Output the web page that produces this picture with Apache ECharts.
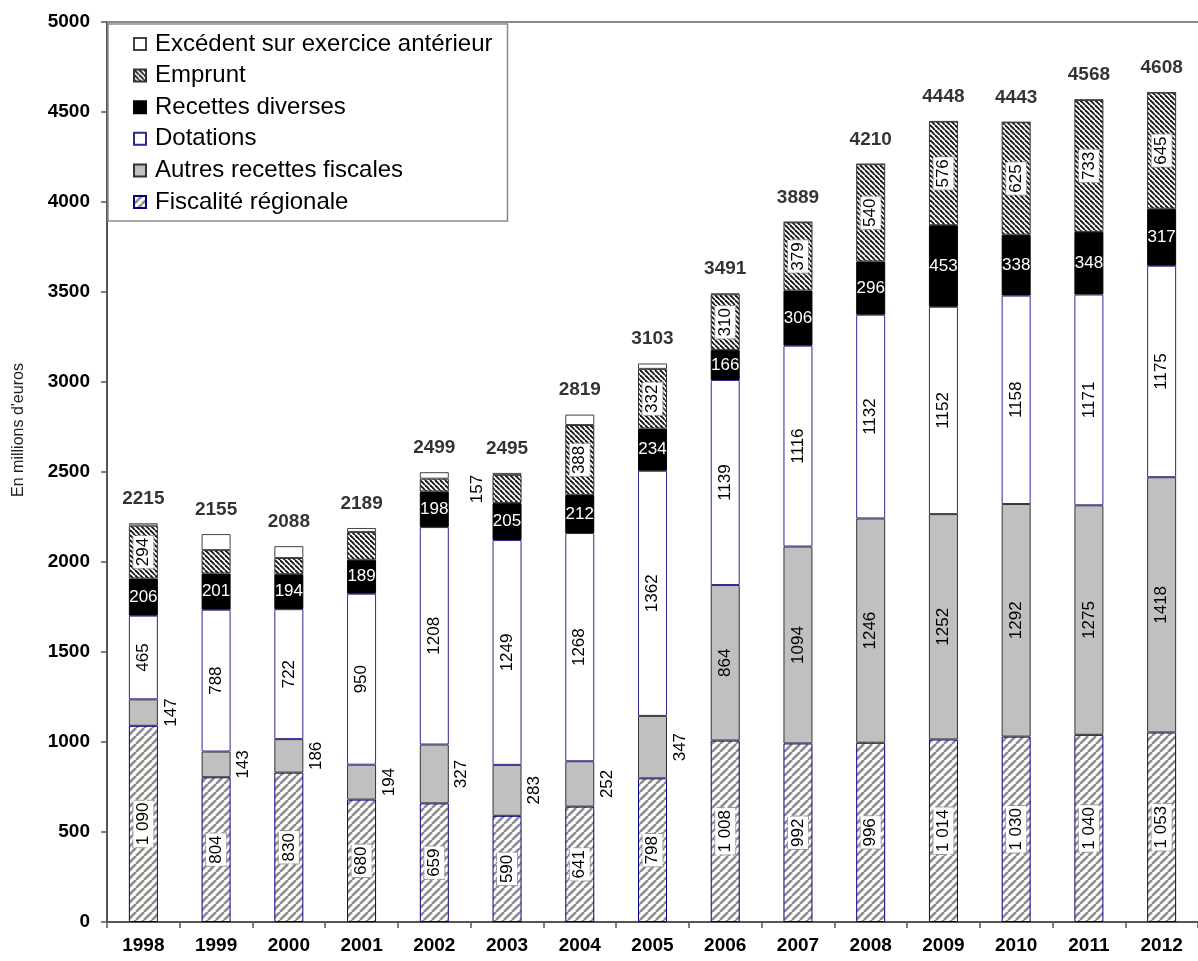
<!DOCTYPE html>
<html>
<head>
<meta charset="utf-8">
<script src="https://cdn.jsdelivr.net/npm/echarts@6/dist/echarts.min.js"></script>
<style>
html,body{margin:0;padding:0;background:#fff;}
#chart{width:1198px;height:961px;}
</style>
</head>
<body>
<div id="chart"></div>
<script>
const years = ['1998','1999','2000','2001','2002','2003','2004','2005','2006','2007','2008','2009','2010','2011','2012'];
const fiscalite = [1090,804,830,680,659,590,641,798,1008,992,996,1014,1030,1040,1053];
const autresFiscales = [147,143,186,194,327,283,252,347,864,1094,1246,1252,1292,1275,1418];
const dotations = [465,788,722,950,1208,1249,1268,1362,1139,1116,1132,1152,1158,1171,1175];
const recettesDiverses = [206,201,194,189,198,205,212,234,166,306,296,453,338,348,317];
const emprunt = [294,130,90,154,71,157,388,332,310,379,540,576,625,733,645];
const excedent = [13,89,66,22,36,11,58,30,4,2,0,1,0,1,0];
const totals = [2215,2155,2088,2189,2499,2495,2819,3103,3491,3889,4210,4448,4443,4568,4608];
const seriesNames = ['Fiscalité régionale','Autres recettes fiscales','Dotations','Recettes diverses','Emprunt','Excédent sur exercice antérieur'];

const FONT = "'Liberation Sans', Arial, sans-serif";

function stripes(period, lw, color, dir) {
  const c = document.createElement('canvas');
  c.width = period; c.height = period;
  const ctx = c.getContext('2d');
  ctx.fillStyle = '#fff';
  ctx.fillRect(0, 0, period, period);
  ctx.strokeStyle = color;
  ctx.lineWidth = lw;
  for (let k = -1; k <= 1; k++) {
    ctx.beginPath();
    if (dir === '/') {
      ctx.moveTo(k * period, period);
      ctx.lineTo(k * period + period, 0);
    } else {
      ctx.moveTo(k * period, 0);
      ctx.lineTo(k * period + period, period);
    }
    ctx.stroke();
  }
  return { image: c, repeat: 'repeat' };
}

const fiscPattern = stripes(8, 2.6, '#8c8c8c', '/');
const empPattern = stripes(5, 1.9, '#1a1a1a', '\\');

const boxLabel = {
  backgroundColor: '#fff',
  borderColor: '#9a9a9a',
  borderWidth: 1,
  borderType: 'dashed',
  padding: [2, 2, 1, 2]
};

function fmtSpace(v) {
  return v >= 1000 ? Math.floor(v / 1000) + ' ' + String(v % 1000).padStart(3, '0') : String(v);
}

const rotLabel = {
  show: true, position: 'inside', rotate: 90, color: '#000',
  fontFamily: FONT, fontSize: 17, align: 'center', verticalAlign: 'middle'
};

const fiscData = fiscalite.map(v => ({ value: v }));
const autresData = autresFiscales.map(v => {
  if (v < 500) {
    return { value: v, label: { position: 'right', distance: 13 } };
  }
  return { value: v };
});
const empHidden = [1, 2, 3, 4];
const empOutside = [5];
const empData = emprunt.map((v, i) => {
  if (empHidden.includes(i)) return { value: v, label: { show: false } };
  if (empOutside.includes(i)) return { value: v, label: { position: 'left', distance: 15, backgroundColor: 'transparent', borderWidth: 0 } };
  return { value: v };
});

const option = {
  animation: false,
  backgroundColor: '#fff',
  textStyle: { fontFamily: FONT },
  grid: { left: 107, right: -9, top: 22, bottom: 39 },
  legend: {
    data: seriesNames.slice().reverse(),
    orient: 'vertical',
    left: 108, top: 24,
    padding: [8, 15, 7, 25],
    itemGap: 7.6,
    itemWidth: 12, itemHeight: 12,
    icon: 'rect',
    backgroundColor: '#fff',
    borderColor: '#8a8a8a', borderWidth: 1.5, borderRadius: 0,
    textStyle: { fontFamily: FONT, fontSize: 24, color: '#000', lineHeight: 22, padding: [0, 0, 0, 4] },
    z: 10
  },
  xAxis: [{
    type: 'category', data: years, position: 'bottom',
    axisLine: { lineStyle: { color: '#555', width: 2 } },
    axisTick: { show: true, alignWithLabel: false, length: 6, lineStyle: { color: '#555', width: 1.5 } },
    axisLabel: { fontFamily: FONT, fontSize: 19, fontWeight: 'bold', color: '#000', margin: 14 }
  }, {
    type: 'category', data: years, position: 'top',
    axisLine: { lineStyle: { color: '#8a8a8a', width: 2 } },
    axisTick: { show: false }, axisLabel: { show: false }
  }],
  yAxis: {
    type: 'value', min: 0, max: 5000, interval: 500,
    axisLine: { show: true, lineStyle: { color: '#555', width: 2 } },
    axisTick: { show: true, length: 6, lineStyle: { color: '#555', width: 1.5 } },
    splitLine: { show: false },
    axisLabel: { fontFamily: FONT, fontSize: 19, fontWeight: 'bold', color: '#000', margin: 17, formatter: v => String(v) }
  },
  graphic: [{
    type: 'text', x: 19, y: 430, rotation: Math.PI / 2,
    style: { text: "En millions d'euros", font: "16px 'Liberation Sans', Arial, sans-serif", fill: '#222', align: 'center', verticalAlign: 'middle' }
  }],
  series: [
    {
      name: seriesNames[0], type: 'bar', stack: 'total', barWidth: 29, data: fiscData,
      itemStyle: { color: fiscPattern, borderColor: '#000080', borderWidth: 1 },
      label: Object.assign({}, rotLabel, boxLabel, { formatter: p => fmtSpace(p.value) })
    },
    {
      name: seriesNames[1], type: 'bar', stack: 'total', data: autresData,
      itemStyle: { color: '#c0c0c0', borderColor: '#333', borderWidth: 1 },
      label: Object.assign({}, rotLabel)
    },
    {
      name: seriesNames[2], type: 'bar', stack: 'total', data: dotations,
      itemStyle: { color: '#fff', borderColor: '#2a2a90', borderWidth: 1 },
      label: Object.assign({}, rotLabel)
    },
    {
      name: seriesNames[3], type: 'bar', stack: 'total', data: recettesDiverses,
      itemStyle: { color: '#000', borderColor: '#000', borderWidth: 1 },
      label: { show: true, position: 'inside', color: '#fff', fontFamily: FONT, fontSize: 17 }
    },
    {
      name: seriesNames[4], type: 'bar', stack: 'total', data: empData,
      itemStyle: { color: empPattern, borderColor: '#333', borderWidth: 1 },
      label: Object.assign({}, rotLabel, boxLabel)
    },
    {
      name: seriesNames[5], type: 'bar', stack: 'total', data: excedent,
      itemStyle: { color: '#fff', borderColor: '#444', borderWidth: 1 }
    },
    {
      name: 'Total', type: 'scatter', data: totals, symbolSize: 0, silent: true,
      label: { show: true, position: 'top', distance: 15, fontFamily: FONT, fontSize: 19, fontWeight: 'bold', color: '#000' },
      z: 5
    }
  ]
};

const chart = echarts.init(document.getElementById('chart'), null, { renderer: 'canvas' });
chart.setOption(option);
</script>
</body>
</html>
